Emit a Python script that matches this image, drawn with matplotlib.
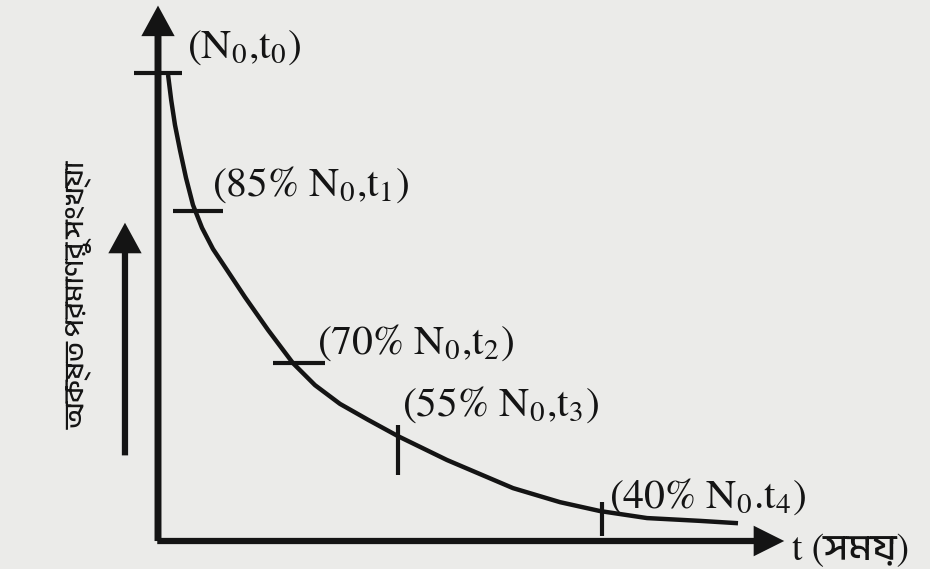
import matplotlib
matplotlib.use("Agg")
import matplotlib.pyplot as plt
from matplotlib import font_manager
from matplotlib.patches import FancyArrowPatch

# curve: t in arbitrary time units, N as fraction of N0
t_curve = [0.16, 0.21, 0.27, 0.35, 0.445, 0.556, 0.70, 0.874, 1.097, 1.383, 1.749,
           2.146, 2.496, 2.893, 3.339, 3.816, 4.595, 5.644, 6.391, 7.027, 7.774,
           8.617, 9.221]
n_curve = [0.996, 0.942, 0.889, 0.835, 0.776, 0.718, 0.669, 0.624, 0.579, 0.521,
           0.451, 0.380, 0.333, 0.293, 0.259, 0.224, 0.173, 0.113, 0.083, 0.064,
           0.049, 0.043, 0.038]

# marked points (tick centres)
t_marks = [0.0, 0.64, 2.24, 3.82, 7.06]
n_marks = [1.0, 0.705, 0.380, 0.194, 0.047]
mark_labels = [r"(N$_0$,t$_0$)", r"(85% N$_0$,t$_1$)", r"(70% N$_0$,t$_2$)",
               r"(55% N$_0$,t$_3$)", r"(40% N$_0$.t$_4$)"]

ylabel_text = "অক্ষত পরমাণুর সংখ্যা"
xlabel_text = "t (সময়)"

# layout
mark_style = ["_", "_", "_", "|", "|"]
mark_size = [35, 36, 37, 36, 25]
label_offset = [(21, 18), (10, 19), (13, 15), (3, 33), (5, 16)]

ink = "#141414"
bg = "#ebebe9"

names = {f.name for f in font_manager.fontManager.ttflist}
beng = sorted(n for n in names if "Bengali" in n or "Bangla" in n)
bn_family = beng[:1] + ["DejaVu Sans"]

plt.rcParams["mathtext.fontset"] = "stix"
plt.rcParams["font.family"] = ["STIXGeneral"]

fig = plt.figure(figsize=(9.3, 5.69), dpi=100, facecolor=bg)
ax = fig.add_axes([0, 0, 1, 1])
ax.set_facecolor(bg)
ax.axis("off")

# pixel scale of the drawing
px_t, px_n = 62.9, 468.0
ox, oy = 158, 541
ax.set_xlim(-ox / px_t, (930 - ox) / px_t)
ax.set_ylim((oy - 569) / px_n, oy / px_n)

# axes with arrows
y_axis = FancyArrowPatch((0, -0.006), (0, 1.15),
                         arrowstyle="simple,tail_width=0.5,head_width=2.4,head_length=2.2",
                         mutation_scale=10, color=ink, lw=0)
x_axis = FancyArrowPatch((-0.056, 0), (10.0, 0),
                         arrowstyle="simple,tail_width=0.45,head_width=2.2,head_length=2.2",
                         mutation_scale=10, color=ink, lw=0)
side = FancyArrowPatch((-0.525, 0.177), (-0.525, 0.686),
                       arrowstyle="simple,tail_width=0.45,head_width=2.4,head_length=2.2",
                       mutation_scale=10, color=ink, lw=0)
for a in (y_axis, x_axis, side):
    ax.add_patch(a)

ax.plot(t_curve, n_curve, color=ink, lw=3.2, solid_capstyle="butt",
        solid_joinstyle="round")

for t, n, m, ms, lab, off in zip(t_marks, n_marks, mark_style, mark_size,
                                 mark_labels, label_offset):
    ax.plot([t], [n], marker=m, ms=ms, mew=3, color=ink)
    ax.annotate(lab, (t, n), xytext=off, textcoords="offset points",
                ha="left", va="center", fontsize=30, color=ink)

ax.text(-1.24, 0.526, ylabel_text, rotation=90, ha="center", va="center",
        fontsize=20, color=ink, family=bn_family)
ax.text(10.08, -0.02, xlabel_text, ha="left", va="center", fontsize=27,
        color=ink, family=["STIXGeneral"] + bn_family)

fig.savefig("out.png", dpi=100, facecolor=bg)
